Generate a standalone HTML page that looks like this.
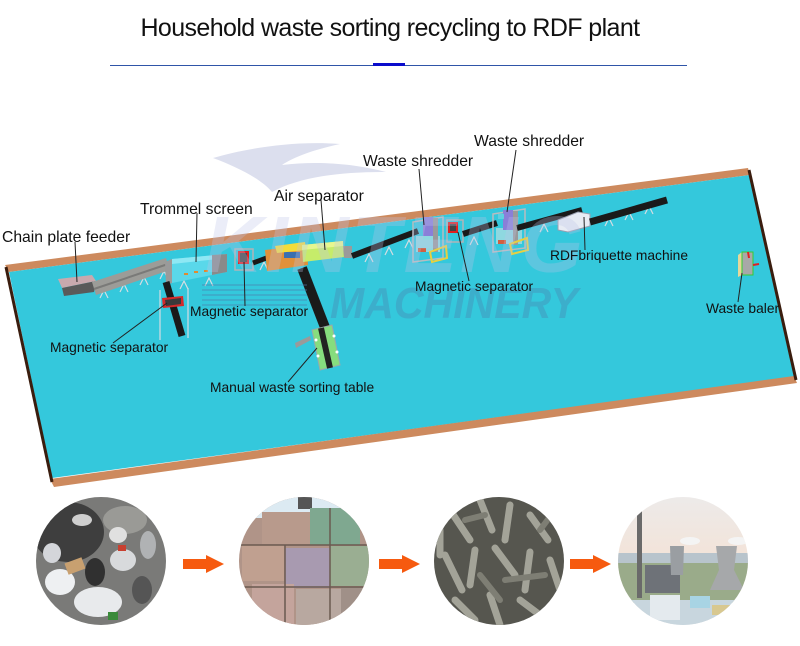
<!DOCTYPE html>
<html><head><meta charset="utf-8">
<style>
html,body{margin:0;padding:0;background:#fff;}
svg{display:block;}
text{font-family:"Liberation Sans",Arial,sans-serif;}
</style></head>
<body>
<svg width="800" height="646" viewBox="0 0 800 646" xmlns="http://www.w3.org/2000/svg">
<defs>
  <clipPath id="c1"><ellipse cx="101" cy="561" rx="65" ry="64"/></clipPath>
  <clipPath id="c2"><ellipse cx="304" cy="561" rx="65" ry="64"/></clipPath>
  <clipPath id="c3"><ellipse cx="499" cy="561" rx="65" ry="64"/></clipPath>
  <clipPath id="c4"><ellipse cx="683" cy="561" rx="65" ry="64"/></clipPath>
  <linearGradient id="sky" x1="0" y1="0" x2="0" y2="1">
    <stop offset="0" stop-color="#ecebeb"/>
    <stop offset="0.5" stop-color="#f3e3d8"/>
    <stop offset="1" stop-color="#dfe3e8"/>
  </linearGradient>
</defs>
<rect width="800" height="646" fill="#fff"/>

<!-- title -->
<text x="390" y="36" font-size="25" text-anchor="middle" letter-spacing="-0.6" fill="#111">Household waste sorting recycling to RDF plant</text>
<rect x="110" y="65" width="577" height="1" fill="#2f55a8"/>
<rect x="373" y="63" width="32" height="3" fill="#0a0ccc"/>

<!-- watermark swoosh -->
<path d="M213,158 C240,150 290,140 340,144 C312,150 292,158 282,165 C322,160 360,165 386,172 C342,172 302,176 272,192 C262,180 240,168 213,158 Z" fill="#dcdfee"/>

<!-- platform -->
<polygon points="5,265 748,168 750,175 9,272" fill="#cd8a5e"/>
<polygon points="9,272 750,175 794,377 52,478" fill="#34c8dc"/>
<polygon points="50,479 794,376 797,383 54,487" fill="#cd8a5e"/>
<line x1="6" y1="267" x2="52" y2="482" stroke="#3a1d0e" stroke-width="3"/>
<line x1="749" y1="170" x2="796" y2="380" stroke="#3a1d0e" stroke-width="3"/>

<!-- trestles (light grey supports) -->
<g stroke="#d5dde2" stroke-width="1.2" fill="none">
  <path d="M100,298 l4,-8 l4,8 M120,292 l4,-8 l4,8 M140,285 l4,-8 l4,8 M160,279 l4,-8 l4,8"/>
  <path d="M180,289 l4,-8 l4,8 M205,286 l4,-8 l4,8"/>
  <path d="M260,270 l4,-8 l4,8 M365,262 l4,-8 l4,8 M385,255 l4,-8 l4,8 M405,248 l4,-8 l4,8"/>
  <path d="M470,245 l4,-8 l4,8 M540,232 l4,-8 l4,8 M560,226 l4,-8 l4,8"/>
  <path d="M605,226 l4,-8 l4,8 M625,220 l4,-8 l4,8 M645,214 l4,-8 l4,8"/>
  <path d="M160,290 l0,50 M188,288 l0,50"/>
</g>

<!-- chain plate feeder -->
<polygon points="58,279 92,275 96,281 62,288" fill="#c9a9ae"/>
<polygon points="62,288 96,281 94,292 64,296" fill="#5a5a5a"/>
<polygon points="92,282 166,258 170,270 96,295" fill="#9c9c98"/>
<line x1="94" y1="289" x2="168" y2="264" stroke="#7a7a78" stroke-width="2"/>

<!-- trommel -->
<polygon points="165,262 172,259 172,283 166,285" fill="#9a9a9a"/>
<polygon points="172,259 227,254 227,272 172,283" fill="#5ad8ea"/>
<polygon points="172,259 227,254 227,258 172,264" fill="#8ee8f4"/>
<polygon points="212,255 227,254 227,272 212,275" fill="#8a8a8a"/>
<g fill="#e08a30"><rect x="184" y="273" width="4" height="2"/><rect x="194" y="271" width="4" height="2"/><rect x="204" y="270" width="4" height="2"/></g>

<!-- conveyor down from trommel + magnetic separator -->
<line x1="166" y1="282" x2="182" y2="336" stroke="#1a1a1a" stroke-width="7"/>
<polygon points="162,298 183,296 184,306 163,308" fill="#d42a2a"/>
<polygon points="165,300 181,298 181,304 166,306" fill="#3a3a3a"/>

<!-- top magnetic separator -->
<rect x="235" y="249" width="18" height="21" fill="none" stroke="#b0b4b8" stroke-width="1.5"/>
<rect x="239" y="252" width="9" height="11" fill="#444" stroke="#e02020" stroke-width="2"/>
<line x1="253" y1="263" x2="280" y2="253" stroke="#1a1a1a" stroke-width="5"/>

<!-- air separator -->
<polygon points="265,250 307,245 308,265 267,271" fill="#e0913a"/>
<rect x="284" y="252" width="16" height="6" fill="#3a6fb0"/>
<polygon points="275,246 305,242 306,250 277,253" fill="#f2dc3a"/>
<polygon points="302,245 343,241 344,257 303,262" fill="#c6ec6a"/>
<polygon points="302,245 343,241 343,246 302,250" fill="#e6f690"/>
<polygon points="343,246 352,246 352,258 344,258" fill="#9a9a9a"/>

<!-- conveyor down to manual sorting -->
<line x1="302" y1="268" x2="326" y2="330" stroke="#1a1a1a" stroke-width="10"/>
<polygon points="312,330 332,325 340,365 320,370" fill="#86dd7e" stroke="#9aa" stroke-width="1"/>
<line x1="321" y1="328" x2="330" y2="368" stroke="#222" stroke-width="6"/>
<g fill="#fff"><circle cx="316" cy="340" r="1.5"/><circle cx="334" cy="336" r="1.5"/><circle cx="318" cy="356" r="1.5"/><circle cx="337" cy="352" r="1.5"/></g>
<polygon points="295,343 310,336 311,340 296,348" fill="#9a9a9a"/>

<!-- conveyor to shredder 1 -->
<line x1="352" y1="256" x2="418" y2="231" stroke="#1a1a1a" stroke-width="6"/>

<!-- shredder 1 -->
<polygon points="413,222 443,217 443,258 413,262" fill="none" stroke="#b8bcc0" stroke-width="1.5"/>
<rect x="416" y="236" width="24" height="16" fill="#8fd8e0"/>
<rect x="423" y="217" width="10" height="19" fill="#8a7fd8"/>
<rect x="433" y="218" width="5" height="34" fill="#9a9a9a"/>
<polygon points="430,252 446,246 447,258 432,262" fill="none" stroke="#e8d040" stroke-width="2"/>
<rect x="418" y="248" width="8" height="4" fill="#d06040"/>

<!-- magnetic separator 3 -->
<rect x="447" y="220" width="16" height="22" fill="none" stroke="#b0b4b8" stroke-width="1.5"/>
<rect x="449" y="223" width="8" height="9" fill="#444" stroke="#e02020" stroke-width="2"/>
<line x1="463" y1="234" x2="497" y2="223" stroke="#1a1a1a" stroke-width="6"/>

<!-- shredder 2 -->
<polygon points="493,214 525,209 525,248 493,252" fill="none" stroke="#b8bcc0" stroke-width="1.5"/>
<rect x="496" y="228" width="26" height="16" fill="#8fd8e0"/>
<rect x="503" y="210" width="10" height="20" fill="#8a7fd8"/>
<rect x="513" y="211" width="5" height="34" fill="#9a9a9a"/>
<polygon points="510,244 527,238 528,250 512,254" fill="none" stroke="#e8d040" stroke-width="2"/>
<rect x="498" y="240" width="8" height="4" fill="#d06040"/>
<rect x="498" y="214" width="6" height="5" fill="#5fd0e0"/>

<!-- conveyor to RDF -->
<line x1="517" y1="228" x2="582" y2="210" stroke="#1a1a1a" stroke-width="6"/>
<!-- RDF briquette machine -->
<polygon points="558,220 578,212 590,214 590,226 568,232 558,230" fill="#e8ecf4" stroke="#9aa0b0" stroke-width="1"/>
<line x1="590" y1="222" x2="667" y2="200" stroke="#1a1a1a" stroke-width="7"/>

<!-- waste baler -->
<polygon points="738,255 742,252 742,275 738,277" fill="#e6d79a"/>
<rect x="742" y="252" width="11" height="23" fill="#a8a8a8" stroke="#3c3" stroke-width="1"/>
<line x1="748" y1="252" x2="749" y2="258" stroke="#e02020" stroke-width="2"/>
<line x1="753" y1="265" x2="759" y2="264" stroke="#e02020" stroke-width="2"/>

<!-- watermark text -->
<text x="205" y="272" font-size="80" font-weight="bold" font-style="italic" letter-spacing="3" fill="rgba(190,195,232,0.3)">KINTENG</text>
<g fill="rgba(80,120,170,0.33)">
  <text x="330" y="318" font-size="44" font-weight="bold" font-style="italic" textLength="248" lengthAdjust="spacingAndGlyphs">MACHINERY</text>
  <rect x="202" y="284" width="105" height="2"/>
  <rect x="202" y="289" width="105" height="2"/>
  <rect x="202" y="294" width="105" height="2"/>
  <rect x="202" y="299" width="105" height="2"/>
  <rect x="202" y="304" width="105" height="2"/>
</g>

<!-- leader lines -->
<g stroke="#222" stroke-width="1" fill="none">
  <line x1="75" y1="242" x2="77" y2="282"/>
  <line x1="197" y1="213" x2="196" y2="262"/>
  <line x1="321" y1="200" x2="325" y2="250"/>
  <line x1="245" y1="306" x2="244" y2="262"/>
  <line x1="113" y1="343" x2="167" y2="303"/>
  <line x1="288" y1="382" x2="317" y2="348"/>
  <line x1="419" y1="169" x2="424" y2="225"/>
  <line x1="516" y1="150" x2="507" y2="212"/>
  <line x1="469" y1="281" x2="458" y2="232"/>
  <line x1="585" y1="250" x2="584" y2="217"/>
  <line x1="738" y1="302" x2="742" y2="273"/>
</g>

<!-- labels -->
<g font-size="15.7" fill="#111">
  <text x="2" y="242">Chain plate feeder</text>
  <text x="140" y="214">Trommel screen</text>
  <text x="274" y="201">Air separator</text>
  <text x="363" y="166">Waste shredder</text>
  <text x="474" y="146">Waste shredder</text>
</g>
<g font-size="13.8" fill="#111">
  <text x="550" y="260">RDFbriquette machine</text>
  <text x="190" y="316">Magnetic separator</text>
  <text x="50" y="352">Magnetic separator</text>
  <text x="415" y="291">Magnetic separator</text>
  <text x="210" y="392">Manual waste sorting table</text>
  <text x="706" y="313">Waste baler</text>
</g>

<!-- circle 1: garbage -->
<g clip-path="url(#c1)">
  <rect x="30" y="490" width="145" height="140" fill="#7a7a78"/>
  <ellipse cx="68" cy="532" rx="36" ry="30" fill="#3e3e3e"/>
  <ellipse cx="125" cy="520" rx="22" ry="14" fill="#9a9a96"/>
  <ellipse cx="60" cy="582" rx="15" ry="13" fill="#eef0f2"/>
  <ellipse cx="98" cy="602" rx="24" ry="15" fill="#e8eaec"/>
  <ellipse cx="123" cy="560" rx="13" ry="11" fill="#d8dadc"/>
  <ellipse cx="118" cy="535" rx="9" ry="8" fill="#e0e0e0"/>
  <ellipse cx="82" cy="520" rx="10" ry="6" fill="#cfcfcf"/>
  <ellipse cx="52" cy="553" rx="9" ry="10" fill="#d4d6da"/>
  <rect x="66" y="560" width="18" height="12" fill="#c8a070" transform="rotate(-20 75 566)"/>
  <rect x="118" y="545" width="8" height="6" fill="#c84030"/>
  <rect x="108" y="612" width="10" height="8" fill="#3a8a3a"/>
  <rect x="40" y="600" width="8" height="7" fill="#4060a0"/>
  <ellipse cx="95" cy="572" rx="10" ry="14" fill="#303030"/>
  <ellipse cx="142" cy="590" rx="10" ry="14" fill="#555"/>
  <ellipse cx="148" cy="545" rx="8" ry="14" fill="#b0b2b4"/>
</g>

<!-- circle 2: bales -->
<g clip-path="url(#c2)">
  <rect x="235" y="490" width="140" height="140" fill="#b09488"/>
  <rect x="235" y="490" width="140" height="28" fill="#dceaf2"/>
  <rect x="298" y="495" width="14" height="14" fill="#555"/>
  <rect x="262" y="512" width="48" height="32" fill="#b89a8c"/>
  <rect x="310" y="508" width="50" height="37" fill="#7fa890"/>
  <rect x="242" y="545" width="42" height="36" fill="#c0a090"/>
  <rect x="285" y="548" width="45" height="40" fill="#a89ab0"/>
  <rect x="330" y="546" width="40" height="40" fill="#9aae92"/>
  <rect x="252" y="584" width="42" height="42" fill="#c4a49c"/>
  <rect x="296" y="589" width="45" height="38" fill="#b8a8a0"/>
  <rect x="341" y="587" width="32" height="38" fill="#a09088"/>
  <g stroke="#6a5a50" stroke-width="1.5">
    <line x1="235" y1="545" x2="375" y2="545"/>
    <line x1="235" y1="587" x2="375" y2="587"/>
    <line x1="285" y1="545" x2="285" y2="630"/>
    <line x1="330" y1="508" x2="330" y2="630"/>
  </g>
</g>

<!-- circle 3: pellets -->
<g clip-path="url(#c3)">
  <rect x="430" y="490" width="140" height="140" fill="#56564f"/>
  <g stroke="#a3a398" stroke-width="7" stroke-linecap="round">
    <line x1="450" y1="510" x2="470" y2="540"/>
    <line x1="480" y1="500" x2="492" y2="530"/>
    <line x1="510" y1="505" x2="505" y2="540"/>
    <line x1="530" y1="515" x2="548" y2="540"/>
    <line x1="445" y1="555" x2="462" y2="590"/>
    <line x1="475" y1="550" x2="470" y2="585"/>
    <line x1="495" y1="548" x2="515" y2="575"/>
    <line x1="530" y1="552" x2="525" y2="590"/>
    <line x1="550" y1="560" x2="560" y2="590"/>
    <line x1="455" y1="600" x2="475" y2="620"/>
    <line x1="490" y1="595" x2="500" y2="625"/>
    <line x1="520" y1="600" x2="540" y2="615"/>
    <line x1="440" y1="530" x2="440" y2="555"/>
  </g>
  <g stroke="#7e7e74" stroke-width="6" stroke-linecap="round">
    <line x1="465" y1="520" x2="485" y2="515"/>
    <line x1="540" y1="530" x2="555" y2="510"/>
    <line x1="480" y1="575" x2="500" y2="600"/>
    <line x1="505" y1="580" x2="545" y2="575"/>
  </g>
</g>

<!-- circle 4: power plant -->
<g clip-path="url(#c4)">
  <rect x="615" y="490" width="140" height="140" fill="url(#sky)"/>
  <rect x="615" y="553" width="140" height="10" fill="#b8c4cc"/>
  <rect x="615" y="563" width="140" height="40" fill="#9aab8a"/>
  <rect x="615" y="600" width="140" height="30" fill="#c8d6de"/>
  <rect x="637" y="510" width="5" height="88" fill="#6a6a6a"/>
  <rect x="645" y="565" width="35" height="28" fill="#6e7278"/>
  <polygon points="670,546 684,546 683,575 671,575" fill="#9a9ea2"/>
  <ellipse cx="690" cy="541" rx="10" ry="4" fill="#f4f4f4"/>
  <polygon points="716,546 737,546 734,570 744,590 710,590 719,570" fill="#a6a8aa"/>
  <ellipse cx="738" cy="541" rx="10" ry="4" fill="#f4f4f4"/>
  <rect x="650" y="595" width="30" height="25" fill="#e4eaee"/>
  <rect x="690" y="596" width="20" height="12" fill="#a8d4e4"/>
  <rect x="712" y="605" width="25" height="10" fill="#d8c890"/>
</g>

<!-- arrows -->
<g fill="#f65a0f">
  <polygon points="183,559 206,559 206,555 224,564 206,573 206,569 183,569"/>
  <polygon points="379,559 402,559 402,555 420,564 402,573 402,569 379,569"/>
  <polygon points="570,559 593,559 593,555 611,564 593,573 593,569 570,569"/>
</g>
</svg>
</body></html>
